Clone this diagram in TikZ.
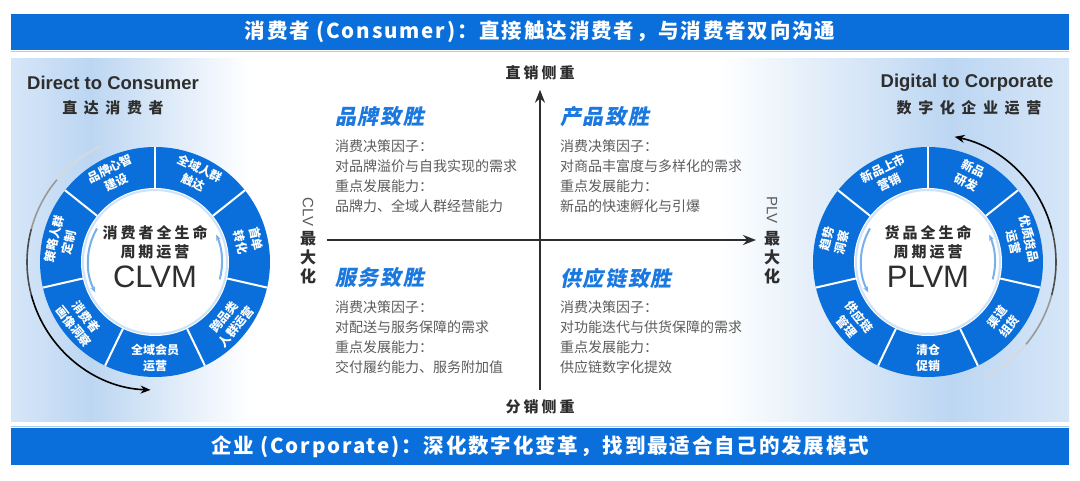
\documentclass[tikz,border=0pt]{standalone}
\usepackage{fontspec}
\setmainfont{Noto Sans CJK SC}
\newfontfamily\cnbanner[LetterSpace=9]{Noto Sans CJK SC}
\newfontfamily\cnwide[LetterSpace=44]{Noto Sans CJK SC}
\newfontfamily\cnspaced[LetterSpace=20]{Noto Sans CJK SC}
\newfontfamily\cnslant[FakeSlant=0.2,LetterSpace=8]{Noto Sans CJK SC}
\newfontfamily\headfont{Liberation Sans}
\usetikzlibrary{positioning,arrows.meta}
\definecolor{CVBlue}{HTML}{0A6FDA}
\definecolor{CVPale}{HTML}{BCD6F2}
\definecolor{CVPaleLight}{HTML}{D6E6F8}
\definecolor{CVTitle}{HTML}{1A78DF}
\definecolor{CVGrey}{HTML}{5C5C5C}
\definecolor{CVDark}{HTML}{2E2E2E}
\definecolor{CVEdge}{HTML}{A9CDF1}

\begin{document}
\begin{tikzpicture}[x=1pt,y=1pt,>={Stealth[length=13pt,width=10pt]}]
  \tikzstyle{bannertext}=[text=white,font=\cnbanner\fontsize{20.5}{24}\selectfont\bfseries]
  \tikzstyle{headtext}=[text=CVDark,font=\headfont\fontsize{18.5}{22}\selectfont\bfseries]
  \tikzstyle{headcn}=[text=CVDark,font=\cnwide\fontsize{15}{18}\selectfont\bfseries]
  \tikzstyle{segtext}=[text=white,align=center,inner sep=0pt,
    font=\fontsize{12}{15.5}\selectfont\bfseries]
  \tikzstyle{coretext}=[text=CVDark,align=center,
    font=\cnspaced\fontsize{15}{19}\selectfont\bfseries]
  \tikzstyle{coreabbr}=[text=CVDark,font=\headfont\fontsize{31}{34}\selectfont]
  \tikzstyle{qtitle}=[text=CVTitle,anchor=west,inner sep=0pt,
    font=\cnslant\fontsize{21}{24}\selectfont\bfseries]
  \tikzstyle{qbody}=[text=CVGrey,align=left,inner sep=0pt,
    font=\fontsize{14}{20}\selectfont]
  \tikzstyle{axislabel}=[text=CVDark,font=\cnspaced\fontsize{15}{18}\selectfont\bfseries]
  \tikzstyle{axisside}=[text=CVGrey,font=\headfont\fontsize{15}{18}\selectfont]
  \tikzstyle{axismax}=[text=CVDark,align=center,font=\fontsize{16}{19}\selectfont\bfseries]
  \tikzstyle{mainaxis}=[->,line width=2.4pt,color=CVDark]
  \tikzstyle{cyclearc}=[line width=1.6pt]
  \tikzstyle{cyclehead}=[-{Stealth[length=10pt,width=8pt]},line width=1.6pt,color=black]
  \tikzstyle{innerarrow}=[-{Stealth[length=6pt,width=5pt]},line width=2pt,color=CVBlue!55]

  \useasboundingbox (0,0) rectangle (1080,480);
  \fill[white] (0,0) rectangle (1080,480);

  % side panels
  \shade[left color=CVPaleLight,right color=CVPale] (11,59) rectangle (91,421);
  \shade[left color=CVPale,right color=white] (90,59) rectangle (250,421);
  \shade[left color=white,right color=CVPale] (720,59) rectangle (951,421);
  \shade[left color=CVPale,right color=CVPaleLight] (950,59) rectangle (1069,421);

  % banners
  \fill[CVBlue] (11,430) rectangle (1069,466);
  \draw[CVEdge,line width=1.5pt] (11,428.5) -- (1069,428.5);
  \node[bannertext] (topband) at (540,448) {消费者 (Consumer)：直接触达消费者，与消费者双向沟通};
  \fill[CVBlue] (11,15) rectangle (1069,52);
  \draw[CVEdge,line width=1.5pt] (11,53.5) -- (1069,53.5);
  \node[bannertext] (bottomband) at (540,33.5) {企业 (Corporate)：深化数字化变革，找到最适合自己的发展模式};

  \node[headtext] (dtc) at (113,397) {Direct to Consumer};
  \node[headcn] (dtccn) at (113,372) {直达消费者};
  \node[headtext] (dtcorp) at (967,397) {Digital to Corporate};
  \node[headcn] (dtcorpcn) at (969,372) {数字化企业运营};

  % CLVM ring
  \coordinate (clvc) at (155,218);
  \fill[CVBlue] (clvc) circle (115);
  \foreach \a in {90,38.57,-12.86,-64.29,-115.71,-167.14,141.43}
    \draw[white,line width=2pt] ([shift={(\a:74)}]clvc) -- ([shift={(\a:115)}]clvc);
  \fill[white] (clvc) circle (74);
  \draw[CVBlue!20,line width=2pt] (clvc) circle (72);
  \draw[innerarrow] ([shift={(150:67)}]clvc) arc[start angle=150,end angle=207,radius=67];
  \draw[innerarrow] ([shift={(-15:67)}]clvc) arc[start angle=-15,end angle=24,radius=67];
  \node[segtext,rotate=-25.71] (clv1) at ([shift={(64.29:96)}]clvc) {全域人群\\触达};
  \node[segtext,rotate=-77.14] (clv2) at ([shift={(12.86:96)}]clvc) {首单\\转化};
  \node[segtext,rotate=51.43] (clv3) at ([shift={(-38.57:96)}]clvc) {跨品类\\人群运营};
  \node[segtext] (clv4) at ([shift={(-90:96)}]clvc) {全域会员\\运营};
  \node[segtext,rotate=-51.43] (clv5) at ([shift={(-141.43:96)}]clvc) {消费者\\画像洞察};
  \node[segtext,rotate=77.14] (clv6) at ([shift={(167.14:96)}]clvc) {策略人群\\定制};
  \node[segtext,rotate=25.71] (clv7) at ([shift={(115.71:96)}]clvc) {品牌心智\\建设};
  \node[coretext] (clvmcn) at (155,237.5) {消费者全生命\\周期运营};
  \node[coreabbr] (clvm) at (155,203) {CLVM};
  \draw[cyclearc,black!15] ([shift={(115:128)}]clvc) arc[start angle=115,end angle=140,radius=128];
  \draw[cyclearc,black!40] ([shift={(140:128)}]clvc) arc[start angle=140,end angle=165,radius=128];
  \draw[cyclearc,black!70] ([shift={(165:128)}]clvc) arc[start angle=165,end angle=195,radius=128];
  \draw[cyclehead] ([shift={(195:128)}]clvc) arc[start angle=195,end angle=268,radius=128];

  % PLVM ring
  \coordinate (plvc) at (928,218);
  \fill[CVBlue] (plvc) circle (115);
  \foreach \a in {90,38.57,-12.86,-64.29,-115.71,-167.14,141.43}
    \draw[white,line width=2pt] ([shift={(\a:74)}]plvc) -- ([shift={(\a:115)}]plvc);
  \fill[white] (plvc) circle (74);
  \draw[CVBlue!20,line width=2pt] (plvc) circle (72);
  \draw[innerarrow] ([shift={(150:67)}]plvc) arc[start angle=150,end angle=207,radius=67];
  \draw[innerarrow] ([shift={(-15:67)}]plvc) arc[start angle=-15,end angle=24,radius=67];
  \node[segtext,rotate=-25.71] (plv1) at ([shift={(64.29:96)}]plvc) {新品\\研发};
  \node[segtext,rotate=-77.14] (plv2) at ([shift={(12.86:96)}]plvc) {优质货品\\运营};
  \node[segtext,rotate=51.43] (plv3) at ([shift={(-38.57:96)}]plvc) {渠道\\组货};
  \node[segtext] (plv4) at ([shift={(-90:96)}]plvc) {清仓\\促销};
  \node[segtext,rotate=-51.43] (plv5) at ([shift={(-141.43:96)}]plvc) {供应链\\管理};
  \node[segtext,rotate=77.14] (plv6) at ([shift={(167.14:96)}]plvc) {趋势\\洞察};
  \node[segtext,rotate=25.71] (plv7) at ([shift={(115.71:96)}]plvc) {新品上市\\营销};
  \node[coretext] (plvmcn) at (928,237.5) {货品全生命\\周期运营};
  \node[coreabbr] (plvm) at (928,203) {PLVM};
  \draw[cyclearc,black!15] ([shift={(-63:128)}]plvc) arc[start angle=-63,end angle=-40,radius=128];
  \draw[cyclearc,black!40] ([shift={(-40:128)}]plvc) arc[start angle=-40,end angle=-15,radius=128];
  \draw[cyclearc,black!70] ([shift={(-15:128)}]plvc) arc[start angle=-15,end angle=15,radius=128];
  \draw[cyclehead] ([shift={(15:128)}]plvc) arc[start angle=15,end angle=78,radius=128];

  % quadrant chart
  \node[axislabel] (zhixiao) at (540,407) {直销侧重};
  \node[axislabel] (fenxiao) at (540,73) {分销侧重};
  \draw[mainaxis,shorten <=6pt,shorten >=6pt] (fenxiao) -- (zhixiao);
  \coordinate (hleft) at (327,240);
  \coordinate (hright) at (756,240);
  \draw[mainaxis] (hleft) -- (hright);
  \node[axisside,rotate=-90] (clv) at (308,268) {CLV};
  \node[axismax] (clvmax) at (308,222) {最\\大\\化};
  \node[axisside,rotate=-90] (plv) at (772,270) {PLV};
  \node[axismax] (plvmax) at (772,222) {最\\大\\化};

  \node[qtitle] (brand) at (335,363) {品牌致胜};
  \node[qbody,below=12pt of brand.south west,anchor=north west] (brandtxt)
    {消费决策因子：\\对品牌溢价与自我实现的需求\\重点发展能力：\\品牌力、全域人群经营能力};
  \node[qtitle] (product) at (560,363) {产品致胜};
  \node[qbody,below=12pt of product.south west,anchor=north west] (producttxt)
    {消费决策因子：\\对商品丰富度与多样化的需求\\重点发展能力：\\新品的快速孵化与引爆};
  \node[qtitle] (service) at (335,202) {服务致胜};
  \node[qbody,below=12pt of service.south west,anchor=north west] (servicetxt)
    {消费决策因子：\\对配送与服务保障的需求\\重点发展能力：\\交付履约能力、服务附加值};
  \node[qtitle] (supply) at (560,202) {供应链致胜};
  \node[qbody,below=12pt of supply.south west,anchor=north west] (supplytxt)
    {消费决策因子：\\对功能迭代与供货保障的需求\\重点发展能力：\\供应链数字化提效};
\end{tikzpicture}
\end{document}
